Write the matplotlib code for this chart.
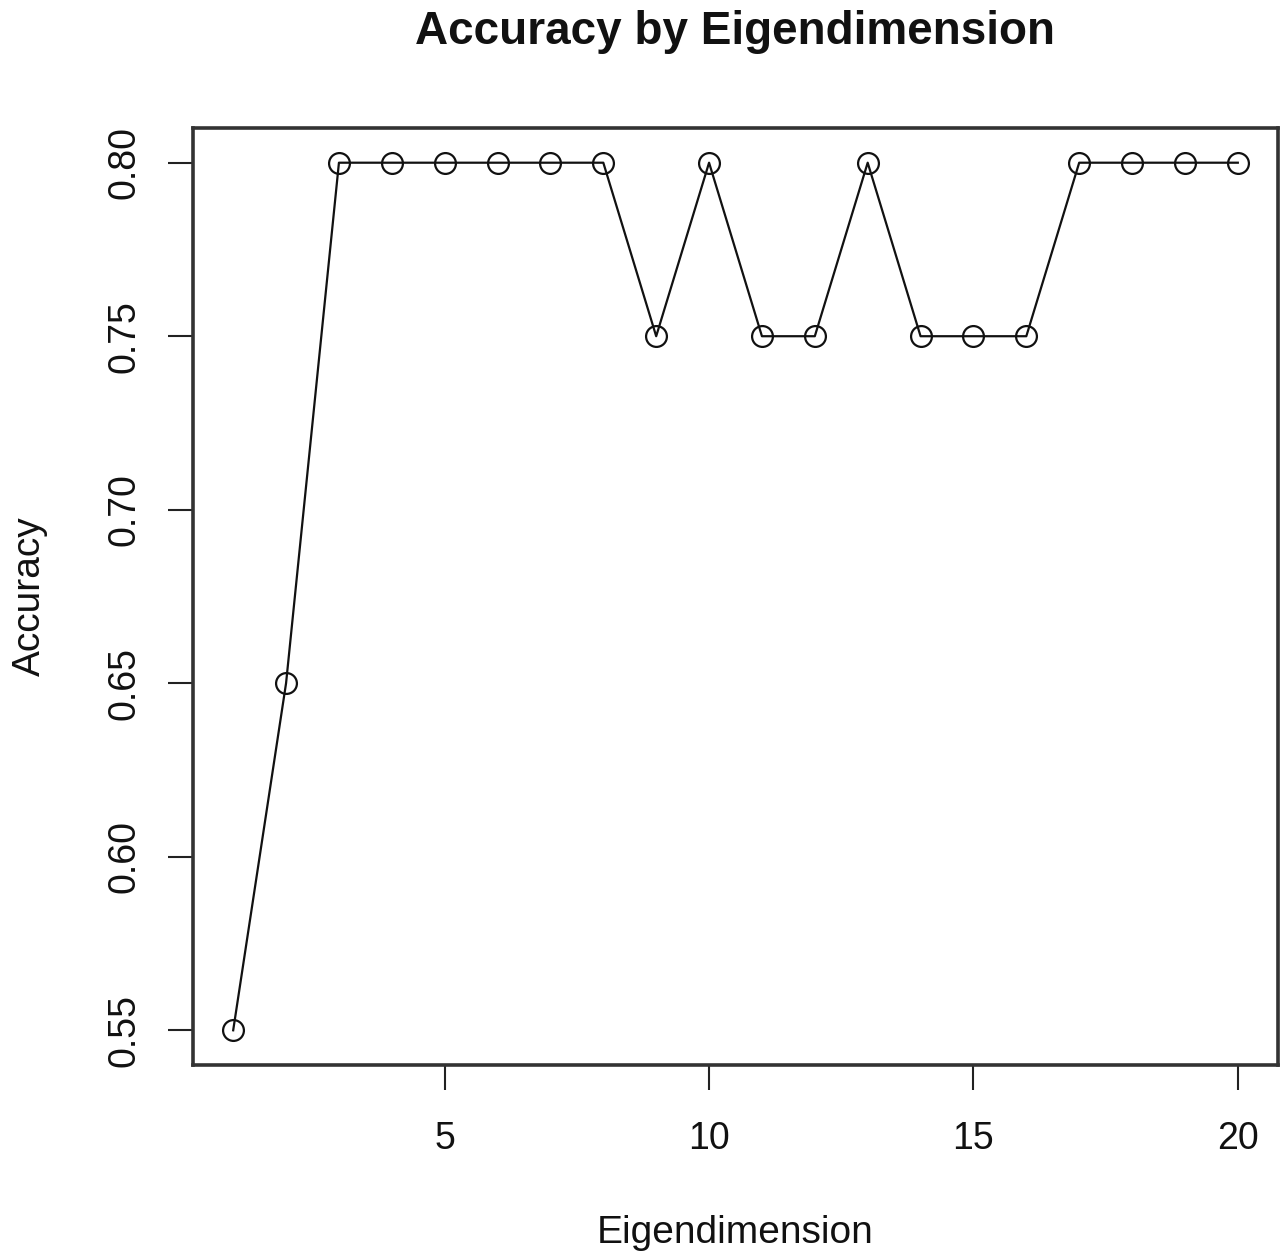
from matplotlib import pyplot as plt
import numpy as np

plt.rcParams["font.family"] = ["Liberation Sans", "DejaVu Sans"]

# accuracy per eigendimension
dims = list(range(1, 21))
accuracy = [0.55, 0.65, 0.80, 0.80, 0.80, 0.80, 0.80, 0.80, 0.75, 0.80,
            0.75, 0.75, 0.80, 0.75, 0.75, 0.75, 0.80, 0.80, 0.80, 0.80]
xticks = [5, 10, 15, 20]
yticks = [0.55, 0.60, 0.65, 0.70, 0.75, 0.80]

font_color = "#111111"

fig = plt.figure(figsize=(12.88, 12.6), dpi=100)
ax = fig.add_axes([193 / 1288, 195 / 1260, 1085 / 1288, 937 / 1260])

ax.plot(dims, accuracy, color="#111111", linewidth=1.6,
        marker="o", markersize=15, markerfacecolor="none",
        markeredgecolor="#111111", markeredgewidth=1.6)

# R-style 4% padding around data range
xr = max(dims) - min(dims)
yr = max(accuracy) - min(accuracy)
ax.set_xlim(min(dims) - 0.04 * xr, max(dims) + 0.04 * xr)
ax.set_ylim(min(accuracy) - 0.04 * yr, max(accuracy) + 0.04 * yr)

ax.set_xticks(xticks, [str(t) for t in xticks])
ax.set_yticks(yticks, [f"{t:.2f}" for t in yticks])
for lbl in ax.get_yticklabels():
    lbl.set_rotation(90)
    lbl.set_va("center")

ax.tick_params(axis="both", direction="out", length=18, width=1.5,
               color="#222222", labelsize=27, labelcolor=font_color)
ax.tick_params(axis="x", pad=22)
ax.tick_params(axis="y", pad=18)

for s in ax.spines.values():
    s.set_linewidth(2.6)
    s.set_color("#333333")

# title and axis labels placed like R's base graphics margins
fig.text(735 / 1288, 1 - 32 / 1260, "Accuracy by Eigendimension",
         ha="center", va="center", fontsize=33, fontweight="bold",
         color=font_color)
fig.text(735 / 1288, 1 - 1233 / 1260, "Eigendimension", ha="center",
         va="center", fontsize=28, color=font_color)
fig.text(30 / 1288, 1 - 596 / 1260, "Accuracy", ha="center", va="center",
         rotation=90, fontsize=28, color=font_color)

fig.savefig("out.png", dpi=100, facecolor="white")
